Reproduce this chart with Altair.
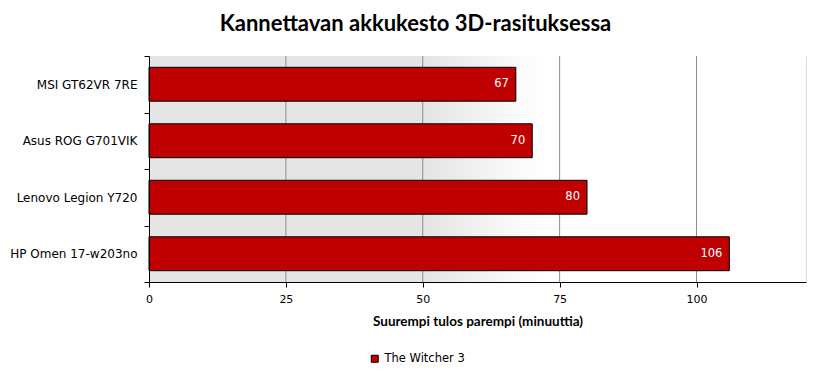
import altair as alt
import pandas as pd

# ---- data ----
laptops = ["MSI GT62VR 7RE", "Asus ROG G701VIK", "Lenovo Legion Y720", "HP Omen 17-w203no"]
minutes = [67, 70, 80, 106]
series_name = "The Witcher 3"
x_ticks = [0, 25, 50, 75, 100]
grid_values = [25, 50, 75, 100]
x_domain = [0, 120]

df = pd.DataFrame({"laptop": laptops, "minutes": minutes, "series": [series_name] * len(laptops)})
grid_df = pd.DataFrame({"g": grid_values})
bg_df = pd.DataFrame({"a": [x_domain[0]], "b": [x_domain[1]]})

W, H = 657, 226
LABEL_FONT = "DejaVu Sans"
TITLE_FONT = "Lato"

xscale = alt.Scale(domain=x_domain, nice=False, zero=True)
yscale = alt.Scale(domain=laptops, paddingInner=0, paddingOuter=0)

x_axis = alt.Axis(
    values=x_ticks, grid=False, tickSize=5, tickColor="black", domainColor="black",
    labelFont=LABEL_FONT, labelFontSize=11, labelColor="black", labelPadding=6, labelFlush=False,
    title="Suurempi tulos parempi (minuuttia)", titleFont=TITLE_FONT, titleFontSize=13.5,
    titleFontWeight="bold", titleColor="black", titlePadding=10, zindex=1,
)
y_axis = alt.Axis(
    title=None, tickBand="extent", tickSize=5, tickColor="black", domainColor="black",
    labelFont=LABEL_FONT, labelFontSize=12, labelColor="black", labelPadding=7, zindex=1,
)

bg = alt.Chart(bg_df).mark_rect(
    color=alt.LinearGradient(
        gradient="linear", x1=0, x2=1, y1=0, y2=0,
        stops=[
            alt.GradientStop(offset=0, color="#e5e5e5"),
            alt.GradientStop(offset=0.42, color="#e5e5e5"),
            alt.GradientStop(offset=0.6, color="#ffffff"),
            alt.GradientStop(offset=1, color="#ffffff"),
        ],
    )
).encode(x=alt.X("a:Q", scale=xscale, axis=x_axis), x2="b:Q")

grid = alt.Chart(grid_df).mark_rule(color="#8c8c8c", strokeWidth=1).encode(
    x=alt.X("g:Q", scale=xscale)
)

bars = alt.Chart(df).mark_bar(
    height={"band": 0.6}, stroke="black", strokeWidth=1
).encode(
    x=alt.X("minutes:Q", scale=xscale),
    y=alt.Y("laptop:N", scale=yscale, sort=laptops, axis=y_axis),
    color=alt.Color(
        "series:N",
        scale=alt.Scale(domain=[series_name], range=["#C00000"]),
        legend=alt.Legend(
            title=None, orient="none", legendX=220, legendY=297, padding=0,
            symbolType="square", symbolSize=49, symbolStrokeColor="black", symbolStrokeWidth=1,
            symbolFillColor="#C00000", symbolOpacity=1,
            labelFont=LABEL_FONT, labelFontSize=11.5, labelColor="black", labelOffset=4,
        ),
    ),
)

labels = alt.Chart(df).mark_text(
    align="right", baseline="middle", dx=-7, color="white", font=LABEL_FONT, fontSize=11.5
).encode(
    x=alt.X("minutes:Q", scale=xscale),
    y=alt.Y("laptop:N", scale=yscale, sort=laptops),
    text="minutes:Q",
)

chart = alt.layer(bg, grid, bars, labels).properties(
    width=W, height=H,
    autosize=alt.AutoSizeParams(type="none"),
    padding={"left": 141, "top": 48, "right": 16, "bottom": 88},
    title=alt.TitleParams(
        "Kannettavan akkukesto 3D-rasituksessa", font=TITLE_FONT, fontSize=22,
        fontWeight="bold", color="black", anchor="middle", frame="group",
        dx=-62, baseline="top", offset=14,
    ),
).configure_view(stroke="black", strokeWidth=1).configure(background="white")

chart.save("out.html", embed_options={"renderer": "svg", "actions": False})
